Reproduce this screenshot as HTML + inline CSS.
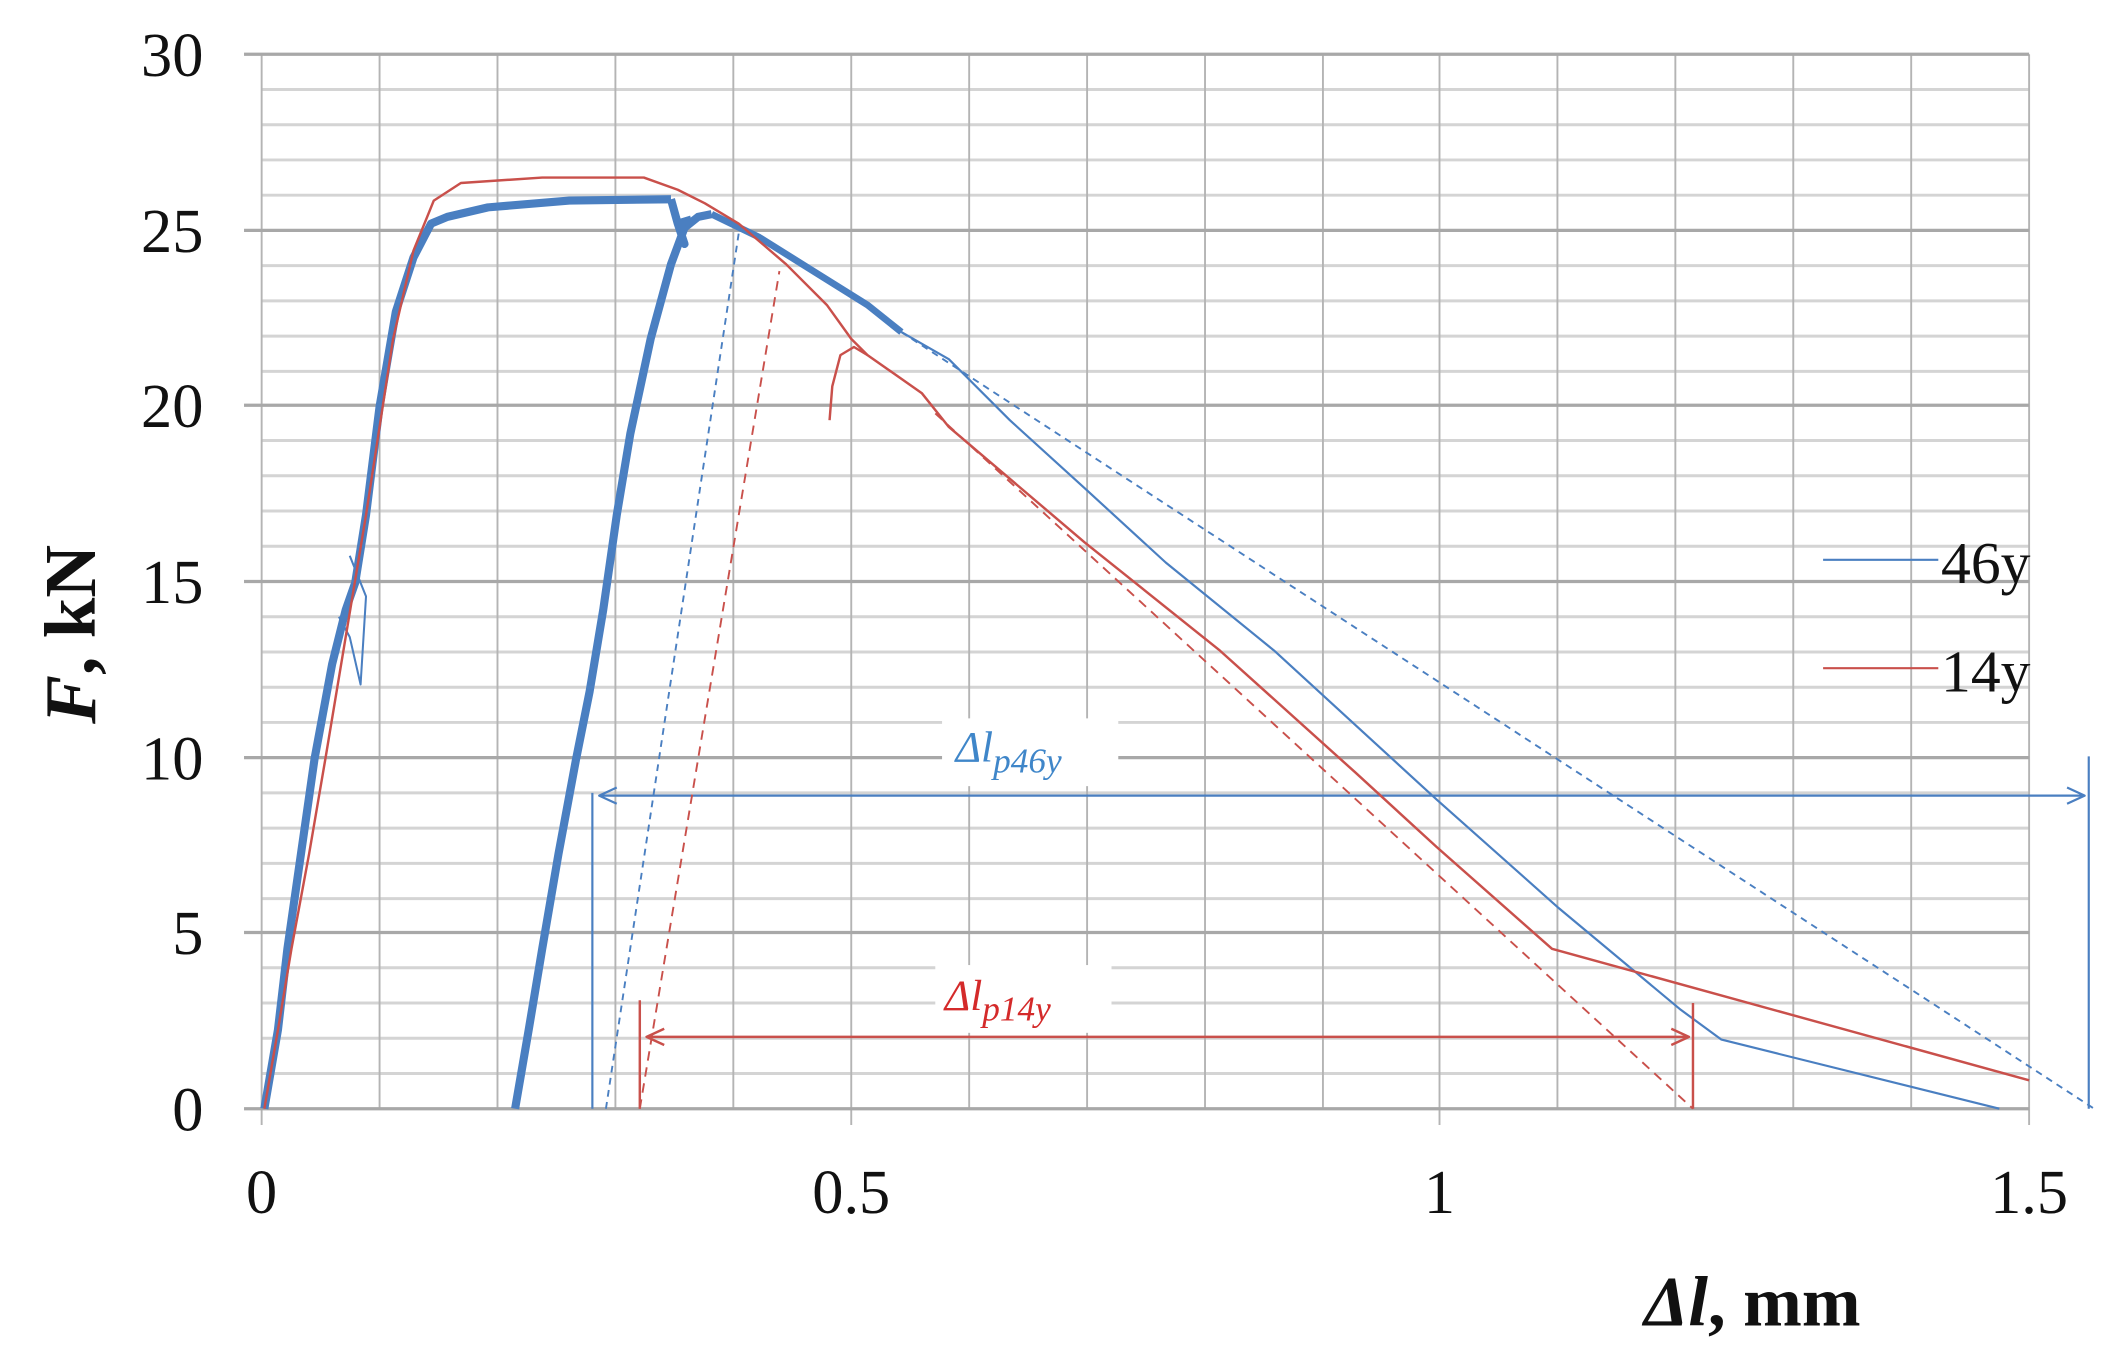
<!DOCTYPE html>
<html><head><meta charset="utf-8"><style>html,body{margin:0;padding:0;background:#fff}svg{display:block}</style></head>
<body>
<svg width="2101" height="1350" viewBox="0 0 1550 996" xmlns="http://www.w3.org/2000/svg" font-family="Liberation Serif, serif">
<rect width="1550" height="996" fill="#fff"/>
<g stroke="#d4d4d4" stroke-width="2.2">
<line x1="193" y1="66" x2="1497" y2="66"/><line x1="193" y1="92" x2="1497" y2="92"/><line x1="193" y1="118" x2="1497" y2="118"/><line x1="193" y1="144" x2="1497" y2="144"/>
<line x1="193" y1="196" x2="1497" y2="196"/><line x1="193" y1="222" x2="1497" y2="222"/><line x1="193" y1="248" x2="1497" y2="248"/><line x1="193" y1="274" x2="1497" y2="274"/>
<line x1="193" y1="325" x2="1497" y2="325"/><line x1="193" y1="351" x2="1497" y2="351"/><line x1="193" y1="377" x2="1497" y2="377"/><line x1="193" y1="403" x2="1497" y2="403"/>
<line x1="193" y1="455" x2="1497" y2="455"/><line x1="193" y1="481" x2="1497" y2="481"/><line x1="193" y1="507" x2="1497" y2="507"/><line x1="193" y1="533" x2="1497" y2="533"/>
<line x1="193" y1="585" x2="1497" y2="585"/><line x1="193" y1="611" x2="1497" y2="611"/><line x1="193" y1="637" x2="1497" y2="637"/><line x1="193" y1="663" x2="1497" y2="663"/>
<line x1="193" y1="714" x2="1497" y2="714"/><line x1="193" y1="740" x2="1497" y2="740"/><line x1="193" y1="766" x2="1497" y2="766"/><line x1="193" y1="792" x2="1497" y2="792"/>
</g>
<g stroke="#b4b4b4" stroke-width="1.4">
<line x1="280" y1="40" x2="280" y2="818"/><line x1="367" y1="40" x2="367" y2="818"/><line x1="454" y1="40" x2="454" y2="818"/><line x1="541" y1="40" x2="541" y2="818"/>
<line x1="715" y1="40" x2="715" y2="818"/><line x1="802" y1="40" x2="802" y2="818"/><line x1="889" y1="40" x2="889" y2="818"/><line x1="976" y1="40" x2="976" y2="818"/>
<line x1="1149" y1="40" x2="1149" y2="818"/><line x1="1236" y1="40" x2="1236" y2="818"/><line x1="1323" y1="40" x2="1323" y2="818"/><line x1="1410" y1="40" x2="1410" y2="818"/>
<line x1="628" y1="40" x2="628" y2="830"/><line x1="1062" y1="40" x2="1062" y2="830"/><line x1="1497" y1="40" x2="1497" y2="830"/>
<line x1="193" y1="40" x2="193" y2="830"/>
</g>
<g stroke="#a8a8a8" stroke-width="2.4">
<line x1="180" y1="40" x2="1497" y2="40"/><line x1="180" y1="170" x2="1497" y2="170"/><line x1="180" y1="299" x2="1497" y2="299"/><line x1="180" y1="429" x2="1497" y2="429"/><line x1="180" y1="559" x2="1497" y2="559"/><line x1="180" y1="688" x2="1497" y2="688"/><line x1="180" y1="818" x2="1497" y2="818"/>
</g>
<g font-size="46" fill="#111" text-anchor="end">
<text x="150" y="56">30</text><text x="150" y="186">25</text><text x="150" y="315">20</text><text x="150" y="445">15</text><text x="150" y="575">10</text><text x="150" y="704">5</text><text x="150" y="834">0</text>
</g>
<g font-size="46" fill="#111" text-anchor="middle">
<text x="193" y="895">0</text><text x="628" y="895">0.5</text><text x="1062" y="895">1</text><text x="1497" y="895">1.5</text>
</g>
<text transform="translate(70,468) rotate(-90)" text-anchor="middle" font-size="54" font-weight="bold" fill="#111"><tspan font-style="italic">F</tspan>, kN</text>
<text x="1213" y="978" font-size="52" font-weight="bold" fill="#111"><tspan font-style="italic">Δl</tspan>, mm</text>
<!-- blue curves -->
<g fill="none" stroke="#4a7fc1" stroke-linejoin="round">
<polyline stroke-width="6" points="195,818 205,760 212,700 222,630 232,560 245,490 255,450 262,430 270,380 280,300 292,230 305,190 318,165 330,160 360,153 420,148 495,147"/>
<polyline stroke-width="1.5" points="258,410 270,440 266,505 258,470 250,455"/>
<polyline stroke-width="6" points="380,818 390,760 400,700 412,630 425,560 435,510 445,450 455,380 465,320 480,250 495,195 505,168 515,160 525,158"/>
<polyline stroke-width="6" points="495,147 500,165 505,180 500,165 510,162"/>
<polyline stroke-width="5" points="525,158 560,175 600,200 640,225 665,245"/>
<polyline stroke-width="1.6" points="665,245 700,265 745,310 800,360 860,415 940,480 1060,590 1150,670 1240,745 1270,767 1475,818"/>
<line x1="437" y1="585" x2="437" y2="818" stroke-width="1.6"/>
<line x1="1541" y1="558" x2="1541" y2="818" stroke-width="1.6"/>
<line x1="447" y1="818" x2="545" y2="172" stroke-width="1.4" stroke-dasharray="5,4"/>
<line x1="665" y1="245" x2="1545" y2="818" stroke-width="1.4" stroke-dasharray="5,4"/>
<line x1="442" y1="587" x2="1538" y2="587" stroke-width="1.6"/>
<polyline stroke-width="1.6" points="455,581 442,587 455,593"/>
<polyline stroke-width="1.6" points="1525,581 1538,587 1525,593"/>
<line x1="1345" y1="413" x2="1430" y2="413" stroke-width="1.6"/>
</g>
<!-- red curves -->
<g fill="none" stroke="#c9504b" stroke-linejoin="round" stroke-width="1.8">
<polyline points="195,818 205,760 215,700 228,630 240,560 255,470 270,380 290,250 305,185 320,148 340,135 400,131 475,131 500,140 520,150 545,165 580,195 610,225 628,250 640,262 680,290 700,315 800,400 900,480 1000,570 1060,625 1145,700 1497,797"/>
<polyline points="612,310 614,285 620,262 630,256 640,262"/>
<line x1="472" y1="738" x2="472" y2="818"/>
<line x1="1249" y1="740" x2="1249" y2="818"/>
<line x1="472" y1="818" x2="575" y2="200" stroke-width="1.4" stroke-dasharray="7,5"/>
<line x1="690" y1="305" x2="1249" y2="818" stroke-width="1.4" stroke-dasharray="7,5"/>
<line x1="477" y1="765" x2="1246" y2="765"/>
<polyline points="490,759 477,765 490,771"/>
<polyline points="1233,759 1246,765 1233,771"/>
<line x1="1345" y1="493" x2="1430" y2="493" stroke-width="1.6"/>
</g>
<rect x="695" y="530" width="130" height="50" fill="#fff"/>
<text x="705" y="562" font-size="32" font-style="italic" fill="#3f86c9">Δl<tspan font-size="26" dy="8">p46y</tspan></text>
<rect x="690" y="712" width="130" height="50" fill="#fff"/>
<text x="697" y="745" font-size="32" font-style="italic" fill="#d42a2a">Δl<tspan font-size="26" dy="8">p14y</tspan></text>
<text x="1432" y="430" font-size="44" fill="#111">46y</text>
<text x="1432" y="510" font-size="44" fill="#111">14y</text>
</svg>
</body></html>
